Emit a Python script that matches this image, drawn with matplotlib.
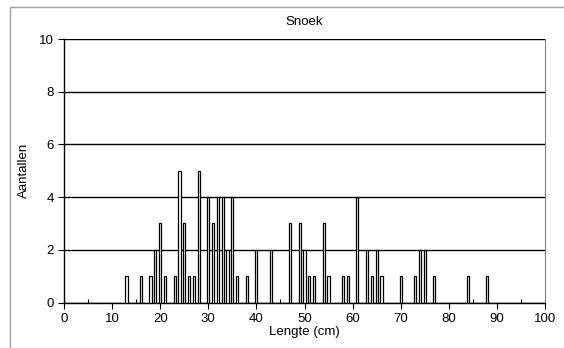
import matplotlib.pyplot as plt
from matplotlib.patches import Rectangle

plt.rcParams['font.family'] = ['Liberation Sans', 'DejaVu Sans']

# lengte (cm) en aantallen
lengte = [13, 16, 18, 19, 20, 21, 23, 24, 25, 26, 27, 28, 30, 31, 32, 33, 34, 35,
          36, 38, 40, 43, 47, 49, 50, 51, 52, 54, 55, 58, 59, 61, 63, 64, 65, 66,
          70, 73, 74, 75, 77, 84, 88]
aantallen = [1, 1, 1, 2, 3, 1, 1, 5, 3, 1, 1, 5, 4, 3, 4, 4, 2, 4,
             1, 1, 2, 2, 3, 3, 2, 1, 1, 3, 1, 1, 1, 4, 2, 1, 2, 1,
             1, 1, 2, 2, 1, 1, 1]

fig = plt.figure(figsize=(5.64, 3.48), dpi=100)
ax = fig.add_axes([64 / 564, 1 - 302.5 / 348, 481 / 564, 263.5 / 348])

# grijze rand om de grafiek
fig.patches.append(Rectangle((10 / 564, -0.1), 1.2, 1 - 7 / 348 + 0.1, transform=fig.transFigure,
                             fill=False, edgecolor='#a0a0a0', linewidth=1))

ax.bar(lengte, aantallen, width=0.45, color='white', edgecolor='black', linewidth=0.9, zorder=3)

ax.set_xlim(0, 100)
ax.set_ylim(0, 10)
ax.set_xticks(range(0, 101, 10))
ax.set_xticks(range(5, 100, 10), minor=True)
ax.set_yticks(range(0, 11, 2))
ax.yaxis.grid(True, color='black', linewidth=1)
ax.set_axisbelow(True)

ax.tick_params(axis='both', which='major', labelsize=9.5, length=4, width=0.8, color='black')
ax.tick_params(axis='x', which='minor', direction='in', length=3, width=0.8)
ax.spines['top'].set_visible(False)
ax.spines['right'].set_color('#808080')
ax.spines['left'].set_linewidth(1)
ax.spines['bottom'].set_linewidth(1)

ax.set_title('Snoek', fontsize=9.5, pad=10)
ax.set_xlabel('Lengte (cm)', fontsize=9.5, labelpad=1)
ax.set_ylabel('Aantallen', fontsize=9.5, labelpad=6)

fig.savefig('out.png', dpi=100)
